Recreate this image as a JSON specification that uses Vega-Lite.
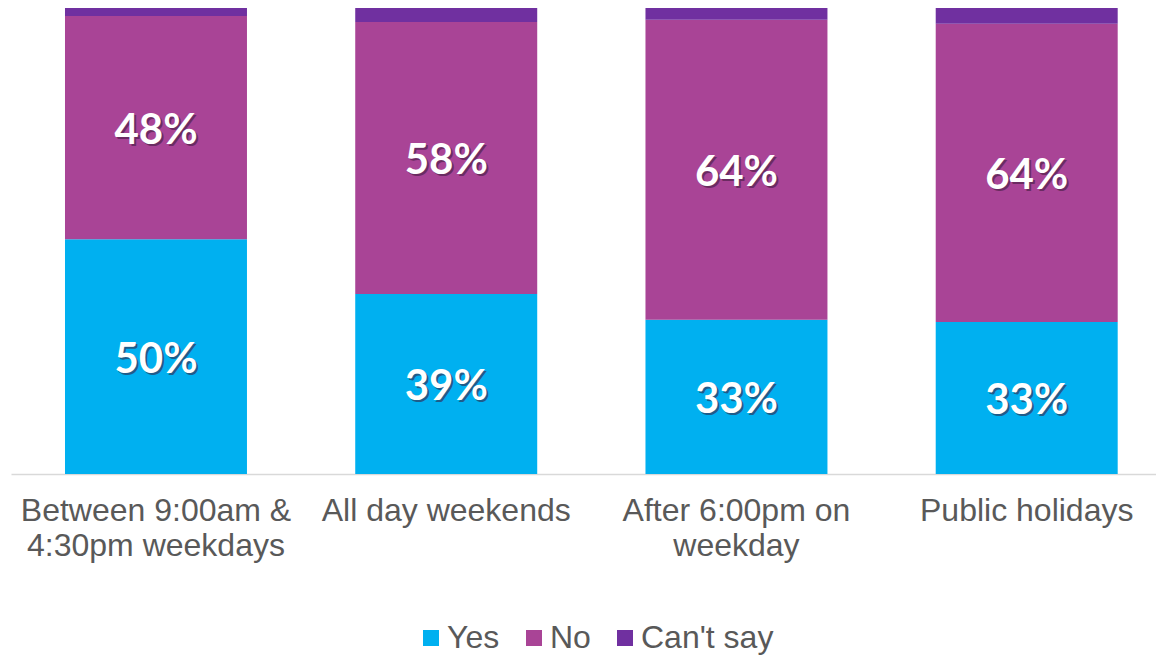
{
  "$schema": "https://vega.github.io/schema/vega-lite/v6.json",
  "width": 1145,
  "height": 466,
  "autosize": "none",
  "padding": {"left": 11, "top": 8, "right": 0, "bottom": 181},
  "background": "white",
  "config": {"view": {"stroke": null}},
  "data": {
    "values": [
      {"time": "Between 9:00am & 4:30pm weekdays", "response": "Yes", "value": 50.4},
      {"time": "Between 9:00am & 4:30pm weekdays", "response": "No", "value": 47.9},
      {"time": "Between 9:00am & 4:30pm weekdays", "response": "Can't say", "value": 1.7},
      {"time": "All day weekends", "response": "Yes", "value": 38.6},
      {"time": "All day weekends", "response": "No", "value": 58.4},
      {"time": "All day weekends", "response": "Can't say", "value": 3.0},
      {"time": "After 6:00pm on weekday", "response": "Yes", "value": 33.1},
      {"time": "After 6:00pm on weekday", "response": "No", "value": 64.4},
      {"time": "After 6:00pm on weekday", "response": "Can't say", "value": 2.5},
      {"time": "Public holidays", "response": "Yes", "value": 32.6},
      {"time": "Public holidays", "response": "No", "value": 64.0},
      {"time": "Public holidays", "response": "Can't say", "value": 3.4}
    ]
  },
  "transform": [
    {"calculate": "indexof(['Yes','No',\"Can't say\"], datum.response)", "as": "k"},
    {"stack": "value", "groupby": ["time"], "sort": [{"field": "k", "order": "ascending"}], "as": ["v0", "v1"]},
    {"calculate": "(datum.v0 + datum.v1) / 2", "as": "mid"},
    {"calculate": "datum.response == \"Can't say\" ? '' : format(round(datum.value), 'd') + '%'", "as": "lbl"}
  ],
  "encoding": {
    "x": {
      "field": "time",
      "type": "nominal",
      "sort": null,
      "title": null,
      "scale": {"paddingInner": 0.373, "paddingOuter": 0.159, "align": 0.585},
      "axis": {
        "labelAngle": 0,
        "ticks": false,
        "domainColor": "#d9d9d9",
        "domainWidth": 1.5,
        "labelFont": "Liberation Sans",
        "labelFontSize": 32,
        "labelColor": "#595959",
        "labelPadding": 21,
        "labelLineHeight": 35,
        "labelLimit": 400,
        "labelExpr": "datum.value == 'Between 9:00am & 4:30pm weekdays' ? ['Between 9:00am &', '4:30pm weekdays'] : datum.value == 'After 6:00pm on weekday' ? ['After 6:00pm on', 'weekday'] : datum.value"
      }
    }
  },
  "layer": [
    {
      "mark": {"type": "bar"},
      "encoding": {
        "y": {"field": "v0", "type": "quantitative", "scale": {"domain": [0, 100], "nice": false}, "axis": null},
        "y2": {"field": "v1"},
        "color": {
          "field": "response",
          "type": "nominal",
          "scale": {"domain": ["Yes", "No", "Can't say"], "range": ["#00B0F0", "#A94496", "#7030A0"]},
          "legend": {
            "title": null,
            "orient": "none",
            "legendX": 404,
            "legendY": 614,
            "direction": "horizontal",
            "symbolType": "square",
            "symbolSize": 256,
            "symbolStrokeWidth": 0,
            "labelFont": "Liberation Sans",
            "labelFontSize": 32,
            "labelColor": "#595959",
            "labelOffset": 0,
            "columnPadding": 18
          }
        }
      }
    },
    {
      "mark": {"type": "text", "font": "Lato", "fontWeight": "bold", "fontSize": 42, "fill": "#3a1838", "opacity": 0.55, "dx": 2, "dy": 5, "baseline": "middle", "align": "center"},
      "encoding": {
        "y": {"field": "mid", "type": "quantitative"},
        "text": {"field": "lbl"}
      }
    },
    {
      "mark": {"type": "text", "font": "Lato", "fontWeight": "bold", "fontSize": 42, "fill": "white", "dy": 3, "baseline": "middle", "align": "center"},
      "encoding": {
        "y": {"field": "mid", "type": "quantitative"},
        "text": {"field": "lbl"}
      }
    }
  ]
}
